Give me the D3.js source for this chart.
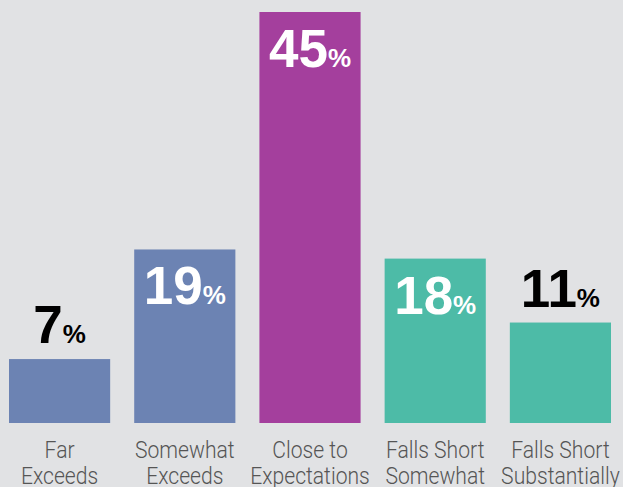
<!DOCTYPE html>
<html>
<head>
    <script src="https://d3js.org/d3.v7.min.js"></script>
    <style>
        body { margin: 0; background: #e1e2e4; }
        svg { display: block; }
    </style>
</head>
<body>
    <script>
        const w = 623
        const h = 487
        const categories = [
            ["Far", "Exceeds"],
            ["Somewhat", "Exceeds"],
            ["Close to", "Expectations"],
            ["Falls Short", "Somewhat"],
            ["Falls Short", "Substantially"]
        ]
        const values = [7, 19, 45, 18, 11]
        const colors = ["#6c83b3", "#6c83b3", "#a43f9d", "#4dbba7", "#4dbba7"]
        // labels that sit inside the bar (white) vs above it (black)
        const inside = [false, true, true, true, false]

        const svg = d3.select("body").append("svg")
            .attr("width", w)
            .attr("height", h)

        svg.append("rect").attr("width", w).attr("height", h).attr("fill", "#e1e2e4")

        const x = d3.scaleBand()
            .domain(d3.range(values.length))
            .range([9, 611])
            .paddingInner(0.192)
            .paddingOuter(0)

        const y = d3.scaleLinear()
            .domain([0, 45])
            .range([423, 12])

        const bars = svg.selectAll(".bar")
            .data(values)
            .enter()
            .append("g")
            .attr("class", "bar")

        bars.append("rect")
            .attr("x", (d, i) => x(i))
            .attr("y", d => y(d))
            .attr("width", x.bandwidth())
            .attr("height", d => y(0) - y(d))
            .attr("fill", (d, i) => colors[i])

        const labels = bars.append("text")
            .attr("x", (d, i) => x(i) + x.bandwidth() / 2)
            .attr("y", (d, i) => inside[i] ? y(d) + 55 : y(d) - 16)
            .attr("text-anchor", "middle")
            .attr("fill", (d, i) => inside[i] ? "#fff" : "#000")
            .style("font-family", "'Liberation Sans', sans-serif")
            .style("font-weight", "bold")

        labels.append("tspan")
            .style("font-size", "53px")
            .text(d => d)
        labels.append("tspan")
            .style("font-size", "26px")
            .text("%")

        // category names, two lines, squeezed a little to mimic the narrow face
        const cat = svg.selectAll(".cat")
            .data(categories)
            .enter()
            .append("text")
            .attr("class", "cat")
            .attr("text-anchor", "middle")
            .attr("fill", "#555")
            .attr("transform", (d, i) => {
                const cx = x(i) + x.bandwidth() / 2
                return `translate(${cx},0) scale(0.88,1)`
            })
            .style("font-family", "Roboto, sans-serif")
            .style("font-weight", "300")
            .style("font-size", "24px")

        cat.selectAll("tspan")
            .data(d => d)
            .enter()
            .append("tspan")
            .attr("x", 0)
            .attr("y", (d, j) => 458 + j * 26)
            .text(d => d)
    </script>
</body>
</html>
